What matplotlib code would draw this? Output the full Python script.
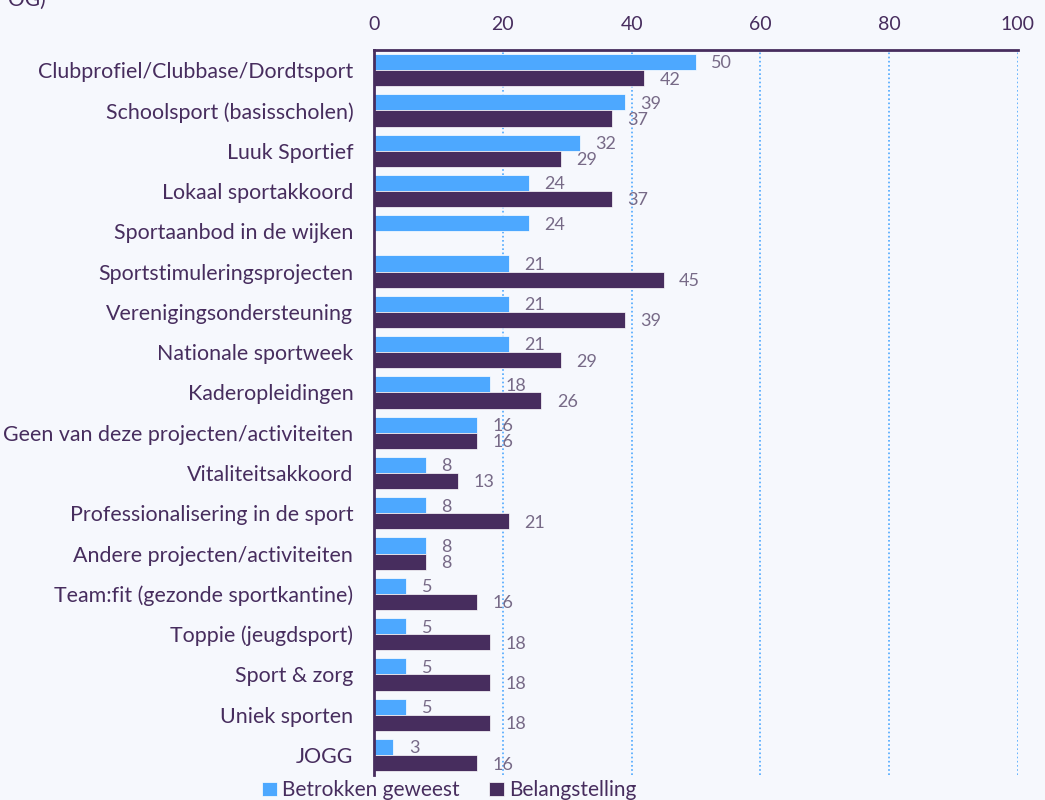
import matplotlib.pyplot as plt
import numpy as np

plt.rcParams['font.family'] = ['Lato', 'DejaVu Sans']

categories = ['Clubprofiel/Clubbase/Dordtsport', 'Schoolsport (basisscholen)', 'Luuk Sportief',
              'Lokaal sportakkoord', 'Sportaanbod in de wijken', 'Sportstimuleringsprojecten',
              'Verenigingsondersteuning', 'Nationale sportweek', 'Kaderopleidingen',
              'Geen van deze projecten/activiteiten', 'Vitaliteitsakkoord',
              'Professionalisering in de sport', 'Andere projecten/activiteiten',
              'Team:fit (gezonde sportkantine)', 'Toppie (jeugdsport)', 'Sport & zorg',
              'Uniek sporten', 'JOGG']
betrokken = [50, 39, 32, 24, 24, 21, 21, 21, 18, 16, 8, 8, 8, 5, 5, 5, 5, 3]
belangstelling = [42, 37, 29, 37, None, 45, 39, 29, 26, 16, 13, 21, 8, 16, 18, 18, 18, 16]

bg = '#F6F8FD'
blue = '#4DA8FF'
purple = '#472D5E'
label_col = '#776A87'

fig = plt.figure(figsize=(10.45, 8), dpi=100, facecolor=bg)
ax = fig.add_axes([0.358, 0.031, 0.616, 0.9065], facecolor=bg)

y = np.arange(len(categories))
h = 0.4
ax.barh(y - h / 2, betrokken, height=h, color=blue, edgecolor='white', linewidth=0.5,
        label='Betrokken geweest', zorder=3)
yb = [i + h / 2 for i, v in enumerate(belangstelling) if v is not None]
vb = [v for v in belangstelling if v is not None]
ax.barh(yb, vb, height=h, color=purple, edgecolor='white', linewidth=0.5,
        label='Belangstelling', zorder=3)

for i, v in enumerate(betrokken):
    ax.annotate(str(v), (v, i - h / 2), xytext=(11, -1), textcoords='offset points',
                va='center', ha='left', fontsize=13, color=label_col, zorder=4)
for i, v in zip(yb, vb):
    ax.annotate(str(v), (v, i), xytext=(11, -1), textcoords='offset points',
                va='center', ha='left', fontsize=13, color=label_col, zorder=4)

ax.set_xlim(0, 100)
ax.set_ylim(len(categories) - 0.5, -0.5)
ax.set_xticks([0, 20, 40, 60, 80, 100])
ax.xaxis.tick_top()
ax.tick_params(axis='x', length=0, pad=12, labelsize=14, labelcolor=purple)
ax.set_yticks(y)
ax.set_yticklabels(categories)
ax.tick_params(axis='y', length=0, pad=15, labelsize=15.4, labelcolor=purple)

ax.grid(axis='x', color=blue, linestyle=(0, (1, 1.5)), linewidth=1.2, zorder=1)
ax.grid(axis='y', visible=False)
for s in ['right', 'bottom']:
    ax.spines[s].set_visible(False)
for s in ['left', 'top']:
    ax.spines[s].set_color(purple)
    ax.spines[s].set_linewidth(2)
    ax.spines[s].set_zorder(5)

fig.legend(loc='center', bbox_to_anchor=(0.43, 0.012), ncol=2, frameon=False,
           fontsize=15, labelcolor=purple, handlelength=0.7, handleheight=0.7,
           handletextpad=0.25, columnspacing=1.4)

fig.text(0.008, 1.0, 'OG)', fontsize=15, color=purple, va='center', ha='left')

fig.savefig('out.png', dpi=100, facecolor=bg)
